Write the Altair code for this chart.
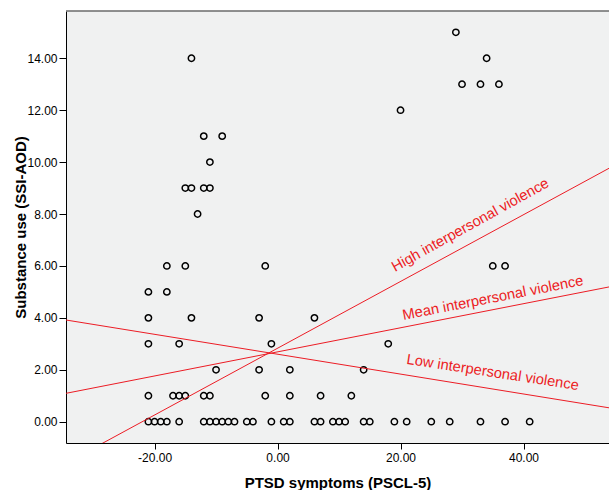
import altair as alt
import pandas as pd

# ---- data ----
ptsd = [-21, -20, -19, -18, -16, -12, -11, -10, -9, -8, -7, -5, -4, -1, 1, 2, 6, 7, 9, 10, 11, 14, 15, 19, 21, 25, 28, 33, 37, 41,
        -21, -17, -16, -15, -12, -11, -2, 2, 7, 12,
        -10, -3, 2, 14,
        -21, -16, -1, 18,
        -21, -14, -3, 6,
        -21, -18,
        -18, -15, -2, 35, 37,
        -13,
        -15, -14, -12, -11,
        -11,
        -12, -9,
        20,
        30, 33, 36,
        -14, 34,
        29]
substance = [0] * 30 + [1] * 10 + [2] * 4 + [3] * 4 + [4] * 4 + [5] * 2 + [6] * 5 + [8] + [9] * 4 + [10] + [11] * 2 + [12] + [13] * 3 + [14] * 2 + [15]

line_names = ["High interpersonal violence", "Mean interpersonal violence", "Low interpersonal violence"]
intercepts = [2.83, 2.69, 2.60]
slopes = [0.1286, 0.0464, -0.0383]

label_x = [19.1, 20.5, 20.9]
label_y = [5.77, 3.92, 2.23]
label_angle = [331, 349, 8.7]

x_domain = [-34.4, 53.9]
y_domain = [-0.82, 15.82]
x_ticks = [-20, 0, 20, 40]
y_ticks = [0, 2, 4, 6, 8, 10, 12, 14]

# ---- tables ----
pts = pd.DataFrame({"x": ptsd, "y": substance})
rows = []
for n, a, b in zip(line_names, intercepts, slopes):
    for xv in x_domain:
        rows.append({"name": n, "x": xv, "y": a + b * xv})
lines = pd.DataFrame(rows)
labels = pd.DataFrame({"name": line_names, "x": label_x, "y": label_y, "angle": label_angle})

FONT = "Liberation Sans"
RED = "#EC1C24"

xscale = alt.Scale(domain=x_domain, nice=False, zero=False)
yscale = alt.Scale(domain=y_domain, nice=False, zero=False)

lab_expr = "replace(format(datum.value, '.2f'), '\u2212', '-')"

xaxis = alt.Axis(values=x_ticks, labelExpr=lab_expr, title="PTSD symptoms (PSCL-5)",
                 grid=False, domainColor="black", domainWidth=1, tickColor="black", tickSize=6,
                 labelFont=FONT, labelFontSize=12, labelColor="black", labelPadding=3,
                 titleFont=FONT, titleFontSize=15, titleFontWeight="bold", titleColor="black",
                 titleBaseline="alphabetic", titleY=44)
yaxis = alt.Axis(values=y_ticks, labelExpr=lab_expr, title="Substance use (SSI-AOD)",
                 grid=False, domainColor="black", domainWidth=1, tickColor="black", tickSize=7,
                 labelFont=FONT, labelFontSize=12, labelColor="black", labelPadding=2,
                 titleFont=FONT, titleFontSize=15, titleFontWeight="bold", titleColor="black",
                 titleX=-46, titleY=216, titleAngle=270, titleBaseline="middle", titleAlign="center")

points = alt.Chart(pts).mark_point(shape="circle", filled=False, color="black", size=40, strokeWidth=1.5, opacity=1).encode(
    x=alt.X("x:Q", scale=xscale, axis=xaxis),
    y=alt.Y("y:Q", scale=yscale, axis=yaxis),
)

reg = alt.Chart(lines).mark_line(color=RED, strokeWidth=1, clip=True).encode(
    x=alt.X("x:Q", scale=xscale),
    y=alt.Y("y:Q", scale=yscale),
    detail="name:N",
)

texts = []
for i in range(3):
    t = alt.Chart(labels.iloc[[i]]).mark_text(
        color=RED, font=FONT, fontSize=14.7, align="left", baseline="alphabetic", angle=label_angle[i]
    ).encode(
        x=alt.X("x:Q", scale=xscale),
        y=alt.Y("y:Q", scale=yscale),
        text="name:N",
    )
    texts.append(t)

top = alt.Chart(pd.DataFrame({"a": [0]})).mark_rule(color="#6b6b6b", strokeWidth=1.5).encode(
    x=alt.value(0), x2=alt.value(545), y=alt.value(0)
)

chart = alt.layer(points, reg, *texts, top).properties(
    width=543, height=432,
    autosize=alt.AutoSizeParams(type="none"),
    padding={"left": 66, "top": 11, "right": 0, "bottom": 47},
    background="white",
).configure_view(stroke=None, fill="#F0F1F1")

chart.save("out.html", embed_options={"renderer": "svg", "actions": False})
